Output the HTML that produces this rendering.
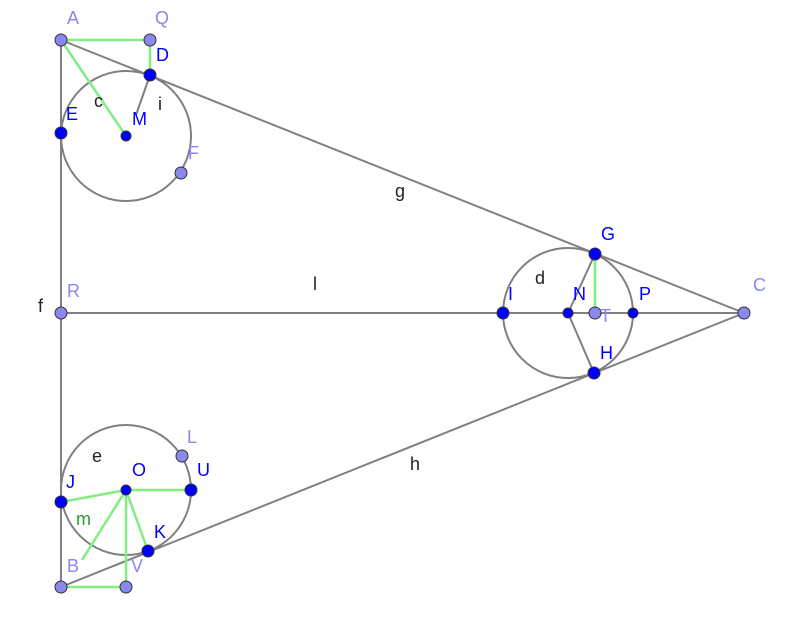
<!DOCTYPE html>
<html><head><meta charset="utf-8"><style>html,body{margin:0;padding:0;background:#fff}svg{display:block}text{font-family:"Liberation Sans",sans-serif;font-size:18px}</style></head><body>
<svg width="805" height="631" viewBox="0 0 805 631">
<g fill="none" stroke="#808080" stroke-width="2">
<circle cx="126" cy="136" r="65"/>
<circle cx="568" cy="313" r="65"/>
<circle cx="126" cy="490" r="65"/>
<line x1="61" y1="40" x2="744" y2="313"/>
<line x1="61" y1="587" x2="744" y2="313"/>
<line x1="61" y1="40" x2="61" y2="587"/>
<line x1="61" y1="313" x2="744" y2="313"/>
<line x1="150" y1="75" x2="136" y2="115"/>
<line x1="568" y1="313" x2="595" y2="254"/>
<line x1="568" y1="313" x2="594" y2="373"/>
</g>
<g stroke="#80ee80" stroke-width="2.5">
<line x1="61" y1="40" x2="150" y2="40"/>
<line x1="150" y1="40" x2="150" y2="75"/>
<line x1="61" y1="40" x2="126" y2="136"/>
<line x1="595" y1="254" x2="595" y2="313"/>
<line x1="126" y1="490" x2="61" y2="502"/>
<line x1="126" y1="490" x2="191" y2="490"/>
<line x1="126" y1="490" x2="82" y2="560"/>
<line x1="126" y1="490" x2="126" y2="587"/>
<line x1="126" y1="490" x2="148" y2="551"/>
<line x1="61" y1="587" x2="126" y2="587"/>
</g>
<g stroke="#333" stroke-width="1">
<g fill="#8888ee">
<circle cx="61" cy="40" r="6"/><circle cx="150" cy="40" r="6"/><circle cx="181" cy="173" r="6"/>
<circle cx="61" cy="313" r="6"/><circle cx="744" cy="313" r="6"/><circle cx="595" cy="313" r="6"/>
<circle cx="182" cy="456" r="6"/><circle cx="61" cy="587" r="6"/><circle cx="126" cy="587" r="6"/>
</g>
<g fill="#0000ff">
<circle cx="150" cy="75" r="6"/><circle cx="61" cy="133" r="6"/><circle cx="126" cy="136" r="5"/>
<circle cx="595" cy="254" r="6"/><circle cx="594" cy="373" r="6"/><circle cx="503" cy="313" r="6"/>
<circle cx="568" cy="313" r="5"/><circle cx="633" cy="313" r="5"/>
<circle cx="126" cy="490" r="5"/><circle cx="61" cy="502" r="6"/><circle cx="191" cy="490" r="6"/><circle cx="148" cy="551" r="6"/>
</g>
</g>
<g fill="#8888ee">
<text x="67" y="24">A</text><text x="155" y="24">Q</text><text x="188" y="159">F</text>
<text x="67" y="297">R</text><text x="753" y="291">C</text><text x="600" y="322">T</text>
<text x="187" y="443">L</text><text x="67" y="572">B</text><text x="131" y="572">V</text>
</g>
<g fill="#0000ff">
<text x="156" y="61">D</text><text x="66" y="120">E</text><text x="132" y="125">M</text>
<text x="601" y="240">G</text><text x="600" y="359">H</text><text x="508" y="300">I</text>
<text x="573" y="300">N</text><text x="639" y="300">P</text>
<text x="132" y="476">O</text><text x="66" y="488">J</text><text x="197" y="476">U</text><text x="154" y="538">K</text>
</g>
<g fill="#222">
<text x="94" y="107">c</text><text x="158" y="110">i</text><text x="395" y="197">g</text>
<text x="38" y="312">f</text><text x="313" y="290">l</text><text x="535" y="284">d</text>
<text x="92" y="462">e</text><text x="410" y="470">h</text>
</g>
<text x="76" y="525" fill="#339933">m</text>
</svg>
</body></html>
